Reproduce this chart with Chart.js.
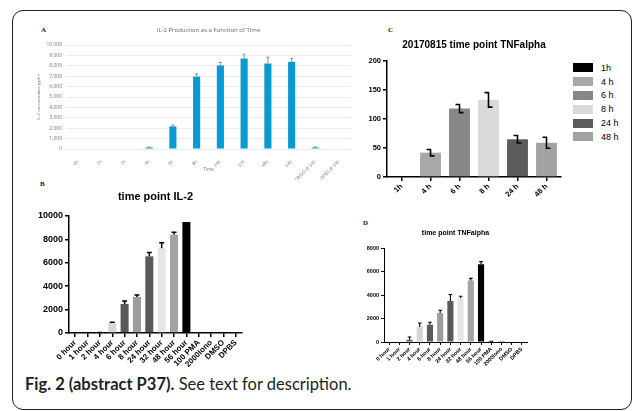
<!DOCTYPE html>
<html>
<head>
<meta charset="utf-8">
<script src="https://cdn.jsdelivr.net/npm/chart.js@4.4.1/dist/chart.umd.min.js"></script>
<style>
  html, body { margin: 0; padding: 0; background: #fff; }
  body { width: 634px; height: 411px; position: relative; overflow: hidden; }
  .frame { position: absolute; left: 12px; top: 10px; width: 620px; height: 400px; box-sizing: border-box;
           border: 1.5px solid #231f20; border-radius: 11px; }
  canvas { position: absolute; }
  .tag { position: absolute; font: bold 7px "Liberation Serif", serif; color: #222; }
  .caption { position: absolute; left: 25px; top: 375px; font: 16.5px Lato, sans-serif; line-height: 18px;
             color: #231f20; white-space: nowrap; }
  .caption b { font-weight: 700; }
  #legendC { position: absolute; left: 573px; top: 61px; font: 9px "Liberation Sans", sans-serif; color: #000; }
  #legendC .row { height: 13.8px; display: flex; align-items: center; }
  #legendC .box { width: 20px; height: 9px; margin-right: 8px; }
</style>
</head>
<body>
<div class="frame"></div>

<div class="tag" style="left:41px; top:26px;">A</div>
<div class="tag" style="left:40px; top:180px;">B</div>
<div class="tag" style="left:388px; top:26px;">C</div>
<div class="tag" style="left:363px; top:219px;">D</div>

<canvas id="chartA" width="330" height="160" style="left:30px; top:20px;"></canvas>
<canvas id="chartB" width="225" height="188" style="left:30px; top:180px;"></canvas>
<canvas id="chartC" width="210" height="180" style="left:360px; top:20px;"></canvas>
<canvas id="chartD" width="175" height="158" style="left:360px; top:215px;"></canvas>
<div id="legendC"></div>

<div class="caption"><b>Fig. 2 (abstract P37).</b> See text for description.</div>

<script>
// A: IL-2 production as a function of time
const timesA = ['0h', '1h', '2h', '4h', '6h', '8h', '24h', '32h', '48h', '54h', 'DMSO @ 54h', 'DPBS @ 54h'];
const il2A = [0, 0, 0, 150, 2170, 6960, 8030, 8700, 8220, 8380, 150, 0];
const il2AErr = [0, 0, 0, 40, 130, 260, 290, 420, 610, 330, 50, 0];

// B and D share the same categories and bar shades
const timesBD = ['0 hour', '1 hour', '2 hour', '4 hour', '6 hour', '8 hour', '24 hour', '32 hour', '48 hour',
                 '56 hour', '100 PMA', '2000Iono', 'DMSO', 'DPBS'];
const il2B = [0, 0, 30, 855, 2480, 3080, 6550, 7240, 8400, 9490, 0, 0, 0, 0];
const il2BErr = [0, 0, 10, 60, 250, 170, 340, 480, 220, 0, 0, 0, 0, 0];
const tnfD = [0, 0, 200, 1280, 1480, 2480, 3510, 3740, 5260, 6630, 30, 10, 0, 0];
const tnfDErr = [0, 0, 230, 340, 200, 230, 540, 170, 170, 230, 40, 0, 0, 0];
const greysBD = ['#000', '#000', '#5a5a5a', '#d6d6d6', '#5a5a5a', '#9d9d9d', '#5a5a5a', '#e6e6e6', '#a3a3a3',
                 '#000', '#777', '#777', '#777', '#777'];

// C: 20170815 TNFalpha
const timesC = ['1h', '4 h', '6 h', '8 h', '24 h', '48 h'];
const tnfC = [0, 42, 118, 133, 65, 59];
const tnfCErr = [0, 5.5, 7, 12.5, 6.5, 9.5];
const greysC = ['#000', '#a8a8a8', '#878787', '#dadada', '#5c5c5c', '#a2a2a2'];

const SANS = '"Liberation Sans", Arial, sans-serif';

// draws error bars from dataset.errors
const errorBars = {
  id: 'errorBars',
  afterDatasetsDraw(chart, args, opts) {
    const ds = chart.data.datasets[0];
    const meta = chart.getDatasetMeta(0);
    const y = chart.scales.y;
    const ctx = chart.ctx;
    ctx.save();
    ctx.strokeStyle = opts.color;
    ctx.lineWidth = opts.width;
    meta.data.forEach((bar, i) => {
      const e = ds.errors[i];
      if (!e) return;
      const v = ds.data[i];
      const top = y.getPixelForValue(v + e);
      const bot = y.getPixelForValue(v - e);
      const x = bar.x, c = opts.cap;
      ctx.beginPath();
      if (opts.style === 'z') {
        ctx.moveTo(x - c, top); ctx.lineTo(x, top); ctx.lineTo(x, bot); ctx.lineTo(x + c, bot);
      } else {
        ctx.moveTo(x, bar.y); ctx.lineTo(x, top);
        ctx.moveTo(x - c, top); ctx.lineTo(x + c, top);
      }
      ctx.stroke();
    });
    ctx.restore();
  }
};

// Prism style axes for B, C, D
function prismScales(o) {
  return {
    x: {
      ticks: { color: '#000', font: { family: SANS, size: o.xFont, weight: 'bold' }, maxRotation: 45, minRotation: 45,
               padding: 1, autoSkip: false },
      grid: { offset: false, drawOnChartArea: false, color: '#000', lineWidth: o.line, tickLength: o.tick },
      border: { color: '#000', width: o.line },
      afterFit(s) { s.height = o.xHeight; }
    },
    y: {
      min: 0, max: o.max,
      ticks: { stepSize: o.step, color: '#000', font: { family: SANS, size: o.yFont, weight: 'bold' }, padding: 2,
               callback: v => String(v) },
      grid: { drawOnChartArea: false, color: '#000', lineWidth: o.line, tickLength: o.tick },
      border: { color: '#000', width: o.line },
      afterFit(s) { s.width = o.yWidth; }
    }
  };
}

function prismTitle(text, size, top, bottom) {
  return { display: true, text: text, color: '#000', fullSize: false,
           font: { family: SANS, size: size, weight: 'bold', lineHeight: 1 }, padding: { top: top, bottom: bottom } };
}

new Chart(document.getElementById('chartA'), {
  type: 'bar',
  data: {
    labels: timesA,
    datasets: [{ data: il2A, errors: il2AErr, backgroundColor: '#0a9ad3', categoryPercentage: 1, barPercentage: 0.3 }]
  },
  options: {
    responsive: false, animation: false,
    layout: { padding: { left: 0, right: 9, top: 0, bottom: 0 } },
    plugins: {
      legend: { display: false }, tooltip: { enabled: false },
      title: { display: true, text: 'IL-2 Production as a Function of Time', color: '#666', fullSize: false,
               font: { family: 'Open Sans', size: 6, weight: 'normal', lineHeight: 1 }, padding: { top: 7, bottom: 12 } },
      errorBars: { color: '#777', width: 0.8, cap: 1.5 }
    },
    scales: {
      x: {
        grid: { display: false }, border: { display: false },
        ticks: { color: '#777', font: { family: 'Open Sans', size: 4.5 }, maxRotation: 45, minRotation: 45, padding: 2, autoSkip: false },
        title: { display: true, text: 'Time', color: '#777', font: { family: 'Open Sans', size: 4.5 }, padding: { top: 0, bottom: 8 } },
        afterFit(s) { s.height = 31; }
      },
      y: {
        min: 0, max: 10000,
        ticks: { stepSize: 1000, color: '#777', font: { family: 'Open Sans', size: 5 }, padding: 4 },
        grid: { color: '#ececec', drawTicks: false }, border: { display: false },
        title: { display: true, text: 'IL-2 concentration pg/ml', color: '#777', font: { family: 'Open Sans', size: 4 }, padding: { top: 6, bottom: 0 } },
        afterFit(s) { s.width = 36; }
      }
    }
  },
  plugins: [errorBars]
});

new Chart(document.getElementById('chartB'), {
  type: 'bar',
  data: {
    labels: timesBD,
    datasets: [{ data: il2B, errors: il2BErr, backgroundColor: greysBD, categoryPercentage: 1, barPercentage: 0.65 }]
  },
  options: {
    responsive: false, animation: false,
    layout: { padding: { left: 0, right: 13, top: 0, bottom: 0 } },
    plugins: {
      legend: { display: false }, tooltip: { enabled: false },
      title: prismTitle('time point IL-2', 11, 11.5, 13.5),
      errorBars: { color: '#000', width: 1.5, cap: 2.5 }
    },
    scales: prismScales({ max: 10000, step: 2000, xFont: 8, yFont: 9, line: 1.5, tick: 4, xHeight: 35, yWidth: 39 })
  },
  plugins: [errorBars]
});

new Chart(document.getElementById('chartC'), {
  type: 'bar',
  data: {
    labels: timesC,
    datasets: [{ data: tnfC, errors: tnfCErr, backgroundColor: greysC, categoryPercentage: 1, barPercentage: 0.72 }]
  },
  options: {
    responsive: false, animation: false,
    layout: { padding: { left: 0, right: 9, top: 0, bottom: 0 } },
    plugins: {
      legend: { display: false }, tooltip: { enabled: false },
      title: prismTitle('20170815 time point TNFalpha', 10, 20, 11),
      errorBars: { color: '#000', width: 1.6, cap: 4, style: 'z' }
    },
    scales: prismScales({ max: 200, step: 50, xFont: 7.5, yFont: 7.5, line: 1.5, tick: 4, xHeight: 23, yWidth: 27 })
  },
  plugins: [errorBars]
});

new Chart(document.getElementById('chartD'), {
  type: 'bar',
  data: {
    labels: timesBD,
    datasets: [{ data: tnfD, errors: tnfDErr, backgroundColor: greysBD, categoryPercentage: 1, barPercentage: 0.6 }]
  },
  options: {
    responsive: false, animation: false,
    layout: { padding: { left: 0, right: 8, top: 0, bottom: 0 } },
    plugins: {
      legend: { display: false }, tooltip: { enabled: false },
      title: prismTitle('time point TNFalpha', 7, 14.5, 11.8),
      errorBars: { color: '#000', width: 1.1, cap: 1.8 }
    },
    scales: prismScales({ max: 8000, step: 2000, xFont: 5.5, yFont: 5.5, line: 1, tick: 3, xHeight: 31, yWidth: 24 })
  },
  plugins: [errorBars]
});

// legend for panel C
const legendC = document.getElementById('legendC');
timesC.forEach((t, i) => {
  const row = document.createElement('div');
  row.className = 'row';
  const box = document.createElement('span');
  box.className = 'box';
  box.style.background = greysC[i];
  row.appendChild(box);
  row.appendChild(document.createTextNode(t));
  legendC.appendChild(row);
});
</script>
</body>
</html>
